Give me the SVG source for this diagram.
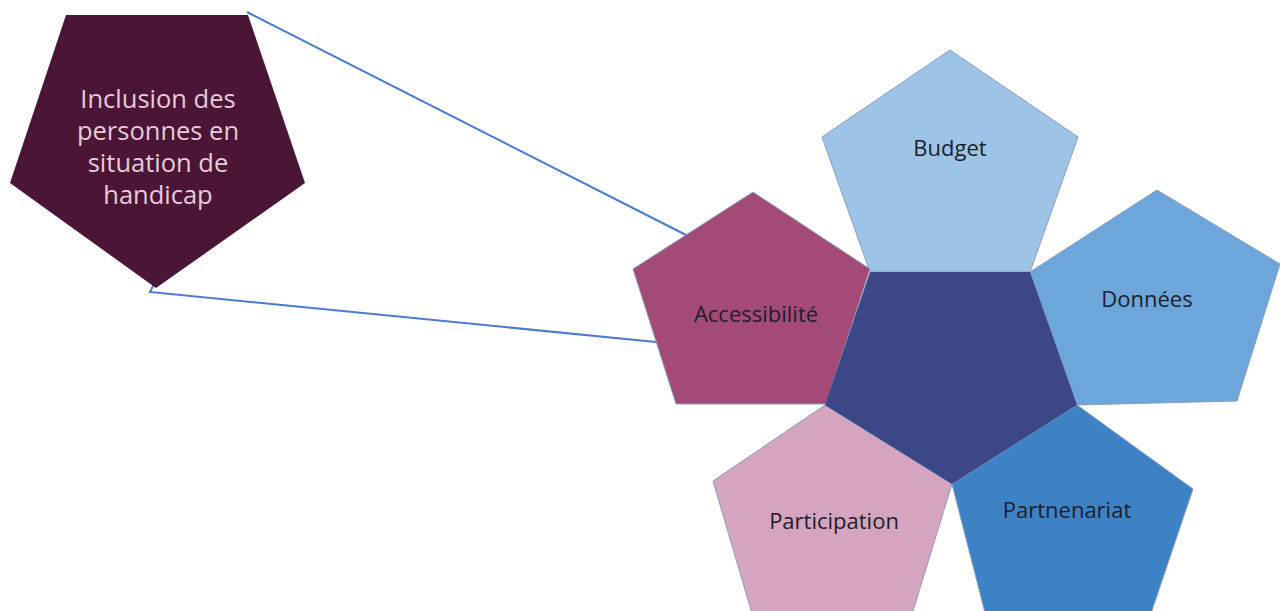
<svg xmlns="http://www.w3.org/2000/svg" width="1280" height="611" viewBox="0 0 1280 611">
<style>
.pent{stroke:#8a9cc4;stroke-width:1}
.lbl{font-family:"Open Sans","Liberation Sans",sans-serif;font-size:22px;fill:#1c1e2a;text-anchor:middle}
.big{font-family:"Open Sans","Liberation Sans",sans-serif;font-size:25.5px;fill:#e6cbdb;text-anchor:middle}
.conn{fill:none;stroke:#4a7bd2;stroke-width:2}
</style>
<rect width="1280" height="611" fill="#ffffff"/>
<g id="connectors">
<polyline class="conn" points="247,12 688,236"/>
<polyline class="conn" points="154,284 150,292 656,342"/>
</g>
<g id="inclusion">
<polygon points="66,15 248,15 305,183 156,288 10,183" fill="#4b1535"/>
<text class="big" x="158" y="108">Inclusion des</text>
<text class="big" x="158" y="140">personnes en</text>
<text class="big" x="158" y="172">situation de</text>
<text class="big" x="158" y="204">handicap</text>
</g>
<g id="budget">
<polygon class="pent" points="950,50 1078,137 1030,272 870,272 822,137" fill="#9dc3e6"/>
<text class="lbl" x="950" y="156">Budget</text>
</g>
<g id="donnees">
<polygon class="pent" points="1157,190 1280,264 1237,401 1077,405 1030,272" fill="#6ca6db"/>
<text class="lbl" x="1147" y="307">Données</text>
</g>
<g id="accessibilite">
<polygon class="pent" points="753,192 870,269 826,404 676,404 633,269" fill="#a34b76"/>
<text class="lbl" x="756" y="322">Accessibilité</text>
</g>
<g id="participation">
<polygon class="pent" points="825,405 952,484 906,634 758,634 713,481" fill="#d5a4bf"/>
<text class="lbl" x="834" y="529">Participation</text>
</g>
<g id="partenariat">
<polygon class="pent" points="1077,405 1193,489 1142,640 992,640 952,484" fill="#3d82c5"/>
<text class="lbl" x="1067" y="518">Partnenariat</text>
</g>
<g id="centre">
<polygon points="870,272 1030,272 1077,405 952,484 825,405" fill="#3b4787"/>
</g>
</svg>
